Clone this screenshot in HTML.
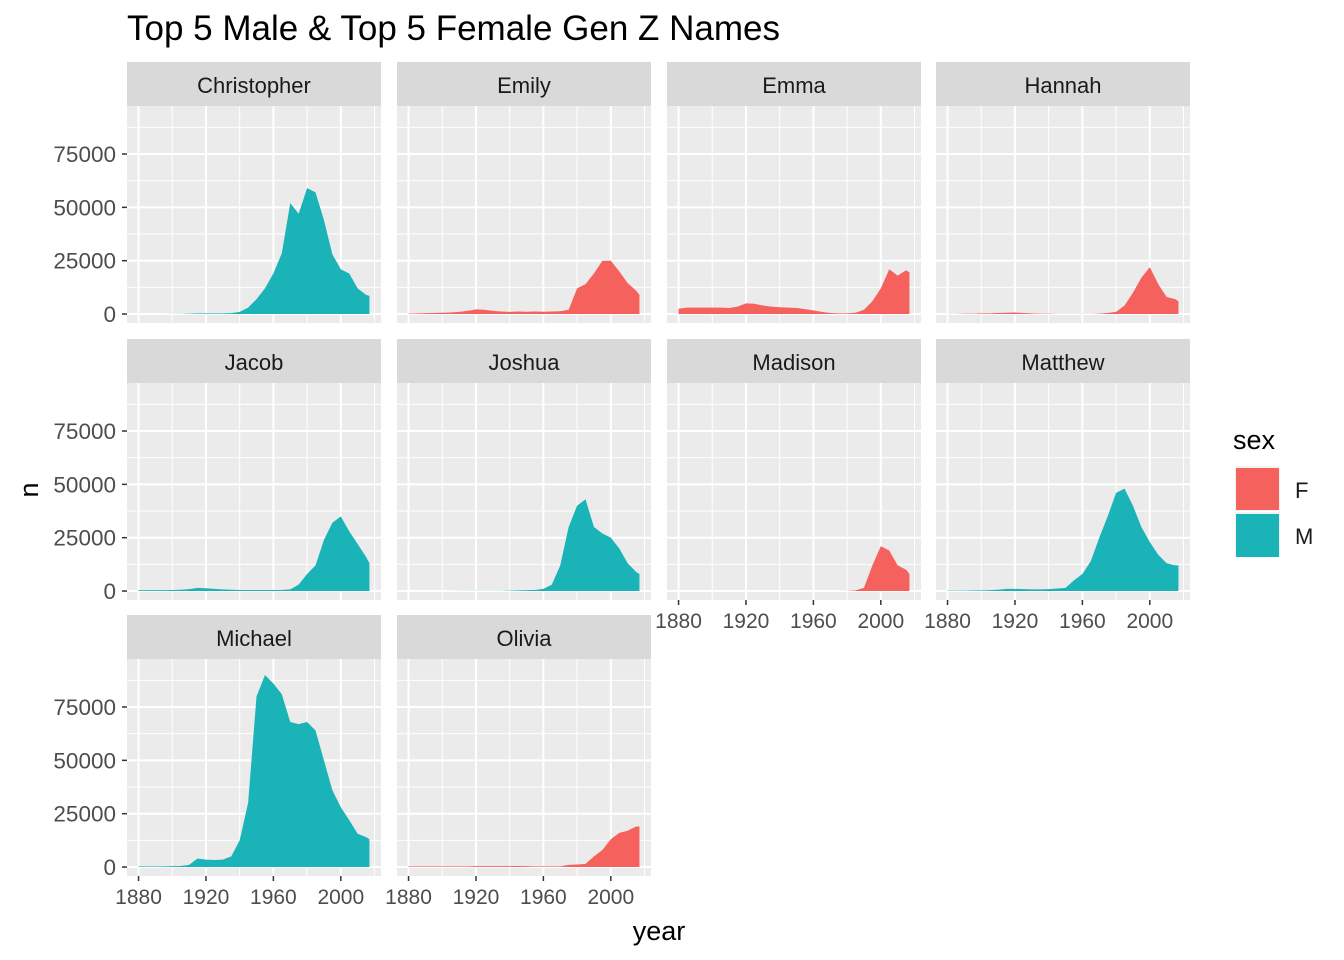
<!DOCTYPE html>
<html><head><meta charset="utf-8"><style>
body{margin:0;background:#fff;}
svg{display:block;font-family:"Liberation Sans",sans-serif;}
</style></head><body>
<svg id="c" width="1344" height="960" viewBox="0 0 1344 960" xmlns="http://www.w3.org/2000/svg">
<text x="127" y="40" font-size="35" fill="#000">Top 5 Male &amp; Top 5 Female Gen Z Names</text>
<text x="659" y="940" font-size="27" text-anchor="middle" fill="#000">year</text>
<text transform="translate(38,490) rotate(-90)" font-size="27" text-anchor="middle" fill="#000">n</text>
<g>
<text x="1233" y="449" font-size="27" fill="#000">sex</text>
<rect x="1235" y="466" width="45" height="45" fill="#F2F2F2"/>
<rect x="1236" y="468" width="43" height="42" fill="#F5615C"/>
<rect x="1235" y="512" width="45" height="45" fill="#F2F2F2"/>
<rect x="1236" y="514" width="43" height="43" fill="#1AB4B8"/>
<text x="1295" y="498" font-size="22" fill="#1a1a1a">F</text>
<text x="1295" y="544" font-size="22" fill="#1a1a1a">M</text>
</g>
</svg>
<script>
const years=[1880,1885,1890,1895,1900,1905,1910,1915,1920,1925,1930,1935,1940,1945,1950,1955,1960,1965,1970,1975,1980,1985,1990,1995,2000,2005,2010,2015,2017];
const names=["Christopher","Emily","Emma","Hannah","Jacob","Joshua","Madison","Matthew","Michael","Olivia"];
const sexes=["M","F","F","F","M","M","F","M","M","F"];
const christopher=[0,0,0,0,100,100,200,300,300,300,300,400,1000,3000,7000,12000,19000,28500,52000,47000,59000,57000,44000,28000,21000,19000,12000,9000,8500];
const emily=[200,300,400,500,600,700,1000,1500,2200,2000,1500,1200,1000,1200,1100,1200,1100,1200,1300,2000,12000,14000,19000,25000,25000,20000,14500,11000,9000];
const emma=[2500,3000,3000,3000,3000,3000,2800,3500,5000,4800,4000,3500,3200,3000,2800,2300,1700,1000,500,300,300,600,2000,6000,12000,21000,18000,20500,19500];
const hannah=[100,100,200,200,300,300,500,600,700,500,300,200,200,100,100,100,100,100,200,500,1000,4000,10000,17000,22000,14000,8000,7000,6000];
const jacob=[400,400,400,400,500,600,900,1500,1300,1000,800,600,500,500,500,500,500,500,800,3000,8000,12000,24000,32000,35000,28000,22000,16000,13000];
const joshua=[0,0,0,0,0,0,100,100,100,100,100,100,200,300,400,500,1000,3000,12000,30000,40000,43000,30000,27000,25000,20000,13000,9000,8000];
const madison=[0,0,0,0,0,0,0,0,0,0,0,0,0,0,0,0,0,0,0,0,100,300,1500,12000,21000,19000,12000,10000,8000];
const matthew=[200,200,200,300,300,400,600,1000,1000,900,800,800,900,1200,1500,5000,8000,14000,25000,35000,46000,48000,40000,30000,23000,17000,13000,12000,12000];
const michael=[300,300,300,300,400,500,1000,4000,3500,3300,3500,5000,12500,30000,80000,90000,86000,81000,68000,67000,68000,64000,50000,36000,28000,22000,15600,14000,13000];
const olivia=[300,300,300,300,300,300,300,300,400,400,400,400,400,500,400,300,300,300,300,1000,1200,1500,5000,8000,13000,16000,17000,19000,19000];
const series=[christopher,emily,emma,hannah,jacob,joshua,madison,matthew,michael,olivia];
const yTicks=[0,25000,50000,75000];
const yTickLabels=["0","25000","50000","75000"];
const xTicks=[1880,1920,1960,2000];
const xTickLabels=["1880","1920","1960","2000"];
const yMinor=[12500,37500,62500,87500];
const xMinor=[1900,1940,1980,2020];

const svg=document.getElementById('c');
const NS="http://www.w3.org/2000/svg";
const colX=[127,397,667,936], PW=254;
const rowTop=[62,339,615], SH=44, PH=217;
const xMin=1873.15,xMax=2023.85,yMin=-4200,yMax=97500;
const colors={F:"#F5615C",M:"#1AB4B8"};
function mk(tag,attrs,parent){const e=document.createElementNS(NS,tag);for(const k in attrs)e.setAttribute(k,attrs[k]);(parent||svg).appendChild(e);return e;}
names.forEach((nm,i)=>{
  const r=Math.floor(i/4),c=i%4;
  const x0=colX[c],st=rowTop[r],py=st+SH;
  const sx=v=>x0+(v-xMin)/(xMax-xMin)*PW;
  const sy=v=>py+PH-(v-yMin)/(yMax-yMin)*PH;
  const g=mk('g',{});
  
  
  const strip=mk('rect',{x:x0,y:st,width:PW,height:SH,fill:"#D9D9D9"},g);
  
  
  const st2=mk('text',{x:x0+PW/2,y:st+31,'font-size':"22",'text-anchor':"middle",fill:"#1a1a1a"},g);
  st2.textContent=nm;
  
  
  const bg=mk('rect',{x:x0,y:py,width:PW,height:PH,fill:"#EBEBEB"},g);
  
  
  yMinor.forEach(v=>{const l=mk('line',{x1:x0,x2:x0+PW,y1:sy(v),y2:sy(v),stroke:"#fff",'stroke-width':"1"},g);});
  xMinor.forEach(v=>{const l=mk('line',{x1:sx(v),x2:sx(v),y1:py,y2:py+PH,stroke:"#fff",'stroke-width':"1"},g);});
  yTicks.forEach(v=>{const l=mk('line',{x1:x0,x2:x0+PW,y1:sy(v),y2:sy(v),stroke:"#fff",'stroke-width':"2"},g);});
  xTicks.forEach(v=>{const l=mk('line',{x1:sx(v),x2:sx(v),y1:py,y2:py+PH,stroke:"#fff",'stroke-width':"2"},g);});
  const d=series[i];
  let p="M"+sx(years[0])+","+sy(0);
  years.forEach((y,k)=>{p+=" L"+sx(y).toFixed(2)+","+sy(d[k]).toFixed(2);});
  p+=" L"+sx(years[years.length-1])+","+sy(0)+" Z";
  const a=mk('path',{d:p,fill:colors[sexes[i]]},g);
  
  
  if(c===0){
    yTicks.forEach((v,k)=>{
      mk('line',{x1:x0-5,x2:x0,y1:sy(v),y2:sy(v),stroke:"#333",'stroke-width':"1.5"},g);
      const t=mk('text',{x:x0-11,y:sy(v)+8,'font-size':"22.5",'text-anchor':"end",fill:"#4D4D4D"},g);
      t.textContent=yTickLabels[k];
      
      
    });
  }
  const bottom=(r===2)||(r===1&&c>=2);
  if(bottom){
    xTicks.forEach((v,k)=>{
      mk('line',{x1:sx(v),x2:sx(v),y1:py+PH,y2:py+PH+5,stroke:"#333",'stroke-width':"1.5"},g);
      const t=mk('text',{x:sx(v),y:py+PH+28,'font-size':"21",'text-anchor':"middle",fill:"#4D4D4D"},g);
      t.textContent=xTickLabels[k];
      
      
    });
  }
});
</script>
</body></html>
